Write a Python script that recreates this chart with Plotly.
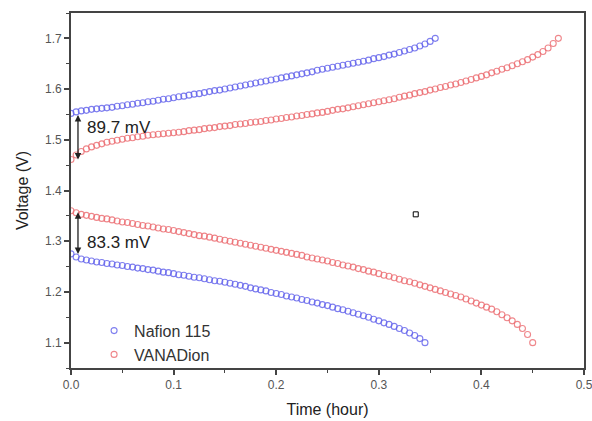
import plotly.graph_objects as go

dt = 0.005  # sampling interval of the recorded curves (hour)

nafion_charge_v = [1.552,1.555,1.557,1.558,1.560,1.561,1.562,1.563,1.564,1.566,
1.567,1.569,1.570,1.572,1.573,1.575,1.576,1.578,1.580,1.581,
1.583,1.585,1.586,1.588,1.590,1.591,1.593,1.595,1.597,1.598,
1.600,1.602,1.604,1.606,1.608,1.610,1.612,1.614,1.616,1.618,
1.620,1.622,1.624,1.626,1.628,1.630,1.632,1.634,1.637,1.639,
1.641,1.643,1.645,1.647,1.649,1.651,1.653,1.655,1.657,1.660,
1.662,1.664,1.667,1.669,1.672,1.675,1.678,1.681,1.685,1.689,
1.694,1.700]

vanadion_charge_v = [1.461,1.470,1.477,1.482,1.486,1.489,1.492,1.495,1.497,1.499,
1.501,1.503,1.504,1.506,1.507,1.509,1.510,1.511,1.512,1.513,
1.514,1.515,1.516,1.518,1.519,1.520,1.522,1.523,1.524,1.526,
1.527,1.528,1.530,1.531,1.532,1.534,1.535,1.536,1.538,1.539,
1.541,1.542,1.544,1.545,1.547,1.548,1.550,1.551,1.553,1.554,
1.556,1.558,1.560,1.561,1.563,1.565,1.567,1.569,1.571,1.573,
1.575,1.577,1.579,1.581,1.584,1.586,1.588,1.591,1.593,1.595,
1.598,1.600,1.603,1.605,1.608,1.610,1.613,1.616,1.619,1.622,
1.625,1.628,1.632,1.635,1.639,1.642,1.646,1.650,1.654,1.658,
1.663,1.668,1.674,1.681,1.690,1.700]

vanadion_discharge_v = [1.360,1.356,1.353,1.351,1.349,1.347,1.345,1.344,1.342,1.340,
1.338,1.337,1.335,1.333,1.331,1.330,1.328,1.326,1.324,1.323,
1.321,1.319,1.317,1.315,1.313,1.311,1.310,1.308,1.306,1.304,
1.302,1.300,1.298,1.296,1.294,1.292,1.290,1.288,1.286,1.284,
1.282,1.280,1.278,1.276,1.274,1.272,1.269,1.267,1.265,1.263,
1.261,1.258,1.256,1.253,1.251,1.249,1.246,1.244,1.241,1.239,
1.236,1.233,1.231,1.228,1.225,1.222,1.220,1.217,1.214,1.211,
1.208,1.205,1.202,1.199,1.196,1.193,1.190,1.186,1.182,1.178,
1.174,1.170,1.166,1.161,1.155,1.149,1.143,1.136,1.128,1.116,
1.100]

nafion_discharge_v = [1.275,1.269,1.265,1.263,1.261,1.259,1.258,1.256,1.255,1.253,
1.252,1.250,1.249,1.247,1.246,1.244,1.243,1.241,1.239,1.238,
1.236,1.234,1.233,1.231,1.229,1.228,1.226,1.224,1.222,1.221,
1.219,1.217,1.215,1.213,1.211,1.208,1.206,1.204,1.202,1.199,
1.197,1.195,1.192,1.190,1.188,1.185,1.183,1.180,1.178,1.175,
1.173,1.170,1.167,1.165,1.162,1.159,1.156,1.153,1.150,1.146,
1.143,1.139,1.136,1.132,1.128,1.124,1.119,1.114,1.108,1.100]

series_names = ["Nafion 115", "VANADion"]
gap_labels = ["89.7 mV", "83.3 mV"]
stray_point = (0.336, 1.353)

BLUE = "rgba(95,95,235,0.8)"
RED = "rgba(235,105,110,0.8)"
FONT = "Liberation Sans, Arial, sans-serif"


def times(v):
    return [round(i * dt, 4) for i in range(len(v))]


fig = go.Figure()

def add(v, name, color, show):
    fig.add_trace(go.Scatter(
        x=times(v), y=v, mode="markers", name=name, legendgroup=name,
        showlegend=show,
        marker=dict(symbol="circle-open", size=6, color=color,
                    line=dict(width=1.1, color=color)),
    ))

add(nafion_charge_v, series_names[0], BLUE, True)
add(nafion_discharge_v, series_names[0], BLUE, False)
add(vanadion_charge_v, series_names[1], RED, True)
add(vanadion_discharge_v, series_names[1], RED, False)

fig.add_trace(go.Scatter(
    x=[stray_point[0]], y=[stray_point[1]], mode="markers", showlegend=False,
    marker=dict(symbol="square-open", size=5, color="black",
                line=dict(width=1, color="black")),
))

# double arrows showing the voltage gaps at t=0
arrow_x = 0.0068
for top, bot in [(nafion_charge_v[0], vanadion_charge_v[0]),
                 (vanadion_discharge_v[0], nafion_discharge_v[0])]:
    fig.add_annotation(x=arrow_x, y=bot, ax=arrow_x, ay=top,
                       xref="x", yref="y", axref="x", ayref="y",
                       showarrow=True, arrowhead=2, arrowside="end+start",
                       arrowsize=1, arrowwidth=1.3, arrowcolor="#222", text="")

for label, yv in zip(gap_labels, [1.524, 1.297]):
    fig.add_annotation(x=0.0135, y=yv, xref="x", yref="y", text=label,
                       showarrow=False, xanchor="left", yanchor="middle",
                       font=dict(size=17, color="#222", family=FONT))

axis_common = dict(
    showline=True, linecolor="#444", linewidth=1.6, mirror=True,
    ticks="outside", ticklen=5, tickwidth=1.5, tickcolor="#444",
    showgrid=False, zeroline=False, ticklabeloverflow="allow",
    tickfont=dict(size=12, color="#555", family=FONT),
)

fig.update_xaxes(
    range=[0, 0.5], dtick=0.1, tickformat=".1f",
    minor=dict(ticks="outside", ticklen=3, tickwidth=1.2, tickcolor="#444", dtick=0.05),
    title=dict(text="Time (hour)", standoff=13,
               font=dict(size=16, color="#222", family=FONT)),
    **axis_common,
)
fig.update_yaxes(
    range=[1.05, 1.75], dtick=0.1, tickformat=".1f",
    minor=dict(ticks="outside", ticklen=3, tickwidth=1.2, tickcolor="#444", dtick=0.05),
    title=dict(text="Voltage (V)", standoff=13,
               font=dict(size=16, color="#222", family=FONT)),
    **axis_common,
)

fig.update_layout(
    width=592, height=421,
    margin=dict(l=71, r=8, t=13, b=53, autoexpand=False),
    paper_bgcolor="white", plot_bgcolor="white",
    legend=dict(x=0.045, y=0.153, xanchor="left", yanchor="top",
                bgcolor="rgba(0,0,0,0)", itemsizing="trace",
                font=dict(size=16, color="#333", family=FONT),
                tracegroupgap=0),
)

fig.write_html("out.html", config={"displayModeBar": False},
               post_script="document.body.style.margin='0';document.body.style.overflow='hidden';")
